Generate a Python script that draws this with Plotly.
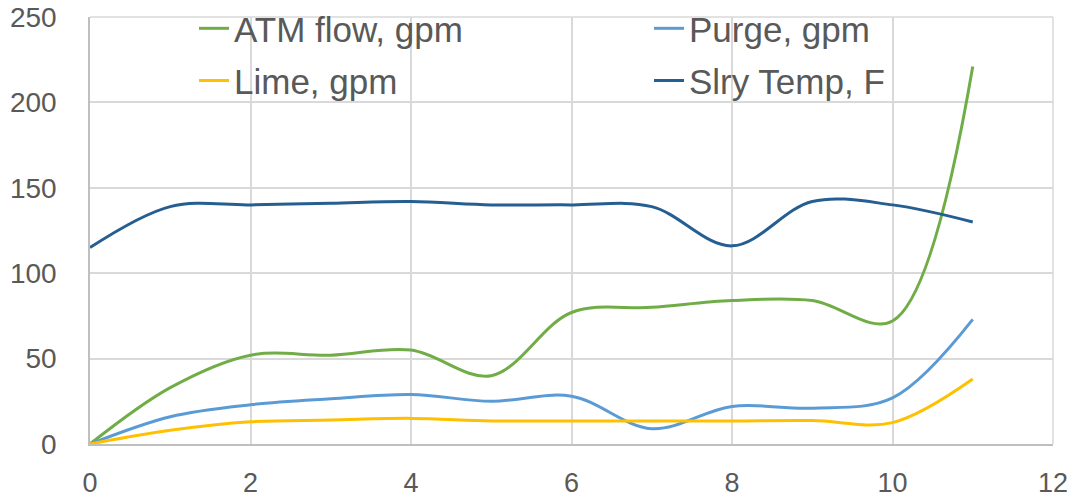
import plotly.graph_objects as go

x_vals = [0, 1, 2, 3, 4, 5, 6, 7, 8, 9, 10, 11]
atm_flow = [0, 33, 52, 52, 55, 40, 77, 80, 84, 84, 72, 221]
purge = [0, 16, 23, 26.5, 29, 25, 28, 9, 22, 21, 27, 73]
lime = [0, 8, 13, 14, 15, 13.5, 13.5, 13.5, 13.5, 13.7, 12.5, 38]
slry_temp = [115, 139, 140, 141, 142, 140, 140, 139, 116, 142, 140, 130]

series = [
    ("ATM flow, gpm", atm_flow, "#70AD47", "legend"),
    ("Purge, gpm", purge, "#5B9BD5", "legend"),
    ("Lime, gpm", lime, "#FFC000", "legend2"),
    ("Slry Temp, F", slry_temp, "#255E91", "legend2"),
]

FONT = "Liberation Sans"
fig = go.Figure()
for name, vals, color, lg in series:
    fig.add_trace(go.Scatter(
        x=x_vals, y=vals, name=name, mode="lines", legend=lg,
        line=dict(color=color, width=3, shape="spline", smoothing=1),
    ))

legend_common = dict(
    orientation="h", xanchor="left", yanchor="top",
    entrywidth=410, entrywidthmode="pixels",
    font=dict(size=35, family=FONT, color="#595959"),
    bgcolor="rgba(0,0,0,0)", traceorder="normal",
)

fig.update_layout(
    width=1068, height=501,
    margin=dict(l=90, r=15, t=17, b=57, autoexpand=False),
    paper_bgcolor="white", plot_bgcolor="white",
    font=dict(family=FONT, color="#595959"),
    legend=dict(x=0.108, y=1.042, **legend_common),
    legend2=dict(x=0.108, y=0.920, **legend_common),
    showlegend=True,
    shapes=[
        dict(type="line", xref="paper", yref="paper", x0=1, x1=1, y0=0, y1=1,
             line=dict(color="#D9D9D9", width=1.5), layer="below"),
        dict(type="line", xref="paper", yref="paper", x0=0, x1=1, y0=1, y1=1,
             line=dict(color="#D9D9D9", width=1.5), layer="below"),
    ],
)
fig.update_xaxes(
    range=[0, 12], tickvals=[0, 2, 4, 6, 8, 10, 12],
    showgrid=True, gridcolor="#D9D9D9", gridwidth=1.5,
    showline=True, linecolor="#BFBFBF", linewidth=1.5,
    zeroline=False, ticks="", ticklabelstandoff=14, automargin=False,
    ticklabeloverflow="allow",
    tickfont=dict(size=27, family=FONT, color="#595959"),
)
fig.update_yaxes(
    range=[0, 250], tickvals=[0, 50, 100, 150, 200, 250],
    showgrid=True, gridcolor="#D9D9D9", gridwidth=1.5,
    showline=True, linecolor="#BFBFBF", linewidth=1.5,
    zeroline=False, ticks="", ticklabelstandoff=26, automargin=False,
    ticklabeloverflow="allow",
    tickfont=dict(size=28, family=FONT, color="#595959"),
)
fig.write_html("out.html")
